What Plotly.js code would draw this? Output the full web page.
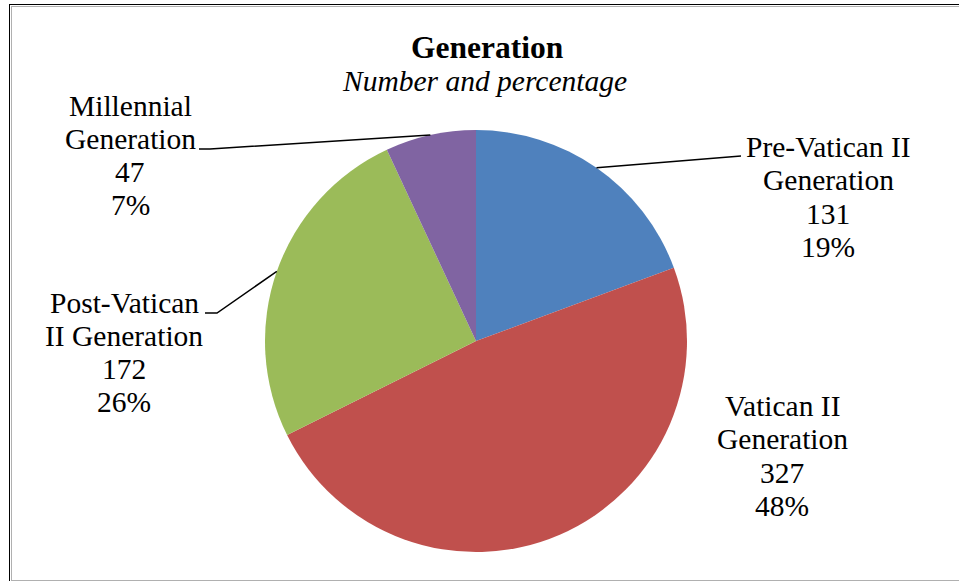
<!DOCTYPE html>
<html>
<head>
<meta charset="utf-8">
<script src="https://cdn.plot.ly/plotly-3.0.1.min.js"></script>
<style>
  html, body { margin: 0; padding: 0; background: #fff; }
  #wrap { position: relative; width: 959px; height: 581px; overflow: hidden; }
  #chart { position: absolute; left: 0; top: 0; width: 959px; height: 581px; }
  .frame { position: absolute; pointer-events: none; box-sizing: border-box; }
</style>
</head>
<body>
<div id="wrap">
  <div id="chart"></div>
  <div class="frame" style="left:8.5px; top:3.5px; width:1000px; height:700px; border-left:1.6px solid #000; border-top:1.6px solid #000;"></div>
  <div class="frame" style="left:10.5px; top:5.5px; width:1000px; height:575.5px; border-left:1.8px solid #b0b0b0; border-top:1.8px solid #b0b0b0; border-bottom:1.8px solid #b0b0b0;"></div>
</div>
<script>
// ---- data ----
const categories = ['Pre-Vatican II Generation', 'Vatican II Generation', 'Post-Vatican II Generation', 'Millennial Generation'];
const labelLines = [['Pre-Vatican II', 'Generation'], ['Vatican II', 'Generation'], ['Post-Vatican', 'II Generation'], ['Millennial', 'Generation']];
const counts = [131, 327, 172, 47];
const percentLabels = ['19%', '48%', '26%', '7%'];
const colors = ['#4F81BD', '#C0504D', '#9BBB59', '#8064A2'];

// ---- layout geometry (pixels) ----
const W = 959, H = 581;
const cx = 476, cy = 341, R = 211;
const px = x => x / W;
const py = y => 1 - y / H;

const SERIF = 'Liberation Serif';
const labelFont = { family: SERIF, size: 29.5, color: '#000' };
const lineGap = 33.3;
// label block centre x and first-line baseline y
const labelPos = [
  { x: 828, y0: 157 },
  { x: 782, y0: 416 },
  { x: 124, y0: 312.5 },
  { x: 130, y0: 115.5 }
];
// leader-line elbow points (null = no leader line)
const leaderEnds = [
  [[741, 156]],
  null,
  [[217, 313], [205, 313]],
  [[210, 149], [199, 149]]
];

const total = counts.reduce((a, b) => a + b, 0);
const annotations = [];
const shapes = [];
let cum = 0;
counts.forEach((v, i) => {
  const mid = (cum + v / 2) / total * 2 * Math.PI;
  cum += v;
  const lines = labelLines[i].concat([String(v), percentLabels[i]]);
  lines.forEach((t, j) => {
    const base = labelPos[i].y0 + j * lineGap;
    annotations.push({
      xref: 'paper', yref: 'paper',
      x: px(labelPos[i].x), y: py(base - 0.3375 * labelFont.size),
      xanchor: 'center', yanchor: 'middle',
      text: t, showarrow: false, font: labelFont
    });
  });
  if (leaderEnds[i]) {
    const sx = cx + R * Math.sin(mid), sy = cy - R * Math.cos(mid);
    let d = 'M ' + px(sx) + ' ' + py(sy);
    leaderEnds[i].forEach(p => { d += ' L ' + px(p[0]) + ' ' + py(p[1]); });
    shapes.push({ type: 'path', xref: 'paper', yref: 'paper', path: d, line: { color: '#000', width: 1.5 } });
  }
});

// titles
const titleFont = { family: SERIF, size: 31.5, color: '#000' };
const subFont = { family: SERIF, size: 29.5, color: '#000' };
annotations.push({
  xref: 'paper', yref: 'paper', x: px(487), y: py(58 - 0.3375 * titleFont.size),
  xanchor: 'center', yanchor: 'middle', showarrow: false,
  text: '<b>Generation</b>', font: titleFont
});
annotations.push({
  xref: 'paper', yref: 'paper', x: px(484), y: py(91 - 0.3375 * subFont.size),
  xanchor: 'center', yanchor: 'middle', showarrow: false,
  text: '<i>Number and percentage</i>', font: subFont
});

const trace = {
  type: 'pie',
  labels: categories,
  values: counts,
  sort: false,
  direction: 'clockwise',
  rotation: 0,
  textinfo: 'none',
  hoverinfo: 'none',
  showlegend: false,
  marker: { colors: colors, line: { width: 0 } },
  domain: { x: [px(cx - R), px(cx + R)], y: [py(cy + R), py(cy - R)] }
};

const layout = {
  width: W, height: H,
  margin: { l: 0, r: 0, t: 0, b: 0 },
  paper_bgcolor: '#fff',
  plot_bgcolor: '#fff',
  showlegend: false,
  annotations: annotations,
  shapes: shapes
};

Plotly.newPlot('chart', [trace], layout, { staticPlot: true, displayModeBar: false });
</script>
</body>
</html>
